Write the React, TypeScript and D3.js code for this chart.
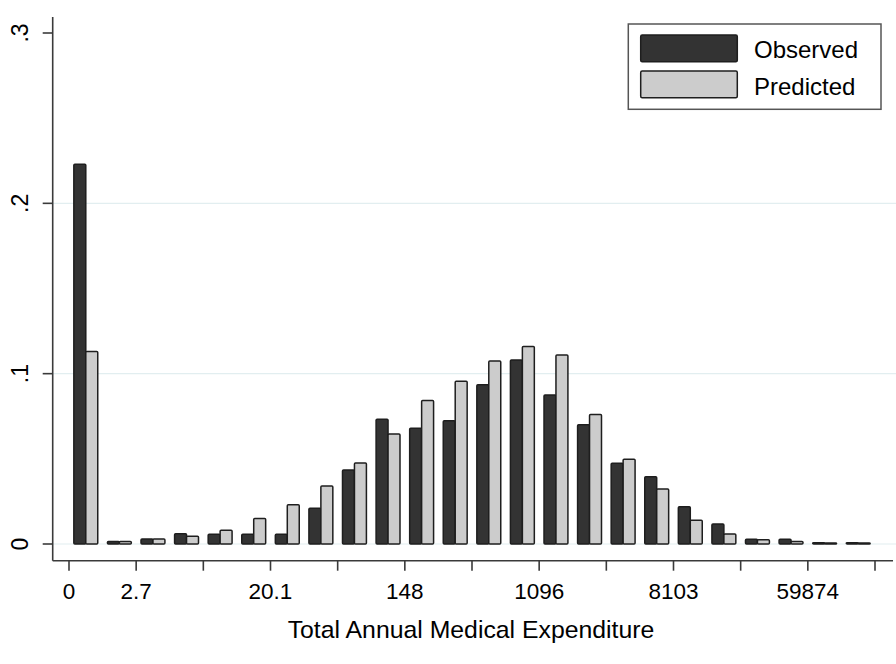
import React, { useEffect, useRef } from "react";
import * as d3 from "d3";

// bins are in log(expenditure) units, 0.5 wide
const binMid = [
  0.25, 0.75, 1.25, 1.75, 2.25, 2.75, 3.25, 3.75, 4.25, 4.75, 5.25, 5.75,
  6.25, 6.75, 7.25, 7.75, 8.25, 8.75, 9.25, 9.75, 10.25, 10.75, 11.25, 11.75,
];
const observed = [
  0.223, 0.0015, 0.003, 0.006, 0.0057, 0.0057, 0.0057, 0.021, 0.0435, 0.0733,
  0.068, 0.0723, 0.0935, 0.108, 0.0875, 0.07, 0.0474, 0.0395, 0.0219, 0.0117,
  0.0028, 0.0028, 0.0008, 0.0008,
];
const predicted = [
  0.113, 0.0015, 0.003, 0.0045, 0.008, 0.015, 0.023, 0.034, 0.0475, 0.0646,
  0.0842, 0.0955, 0.1075, 0.116, 0.111, 0.076, 0.0497, 0.0323, 0.014, 0.0058,
  0.0025, 0.0014, 0.0006, 0.0006,
];
const xTicks = [0, 1, 2, 3, 4, 5, 6, 7, 8, 9, 10, 11, 12];
const xTickLabels: Record<number, string> = {
  0: "0",
  1: "2.7",
  3: "20.1",
  5: "148",
  7: "1096",
  9: "8103",
  11: "59874",
};
const yTicks = [0, 0.1, 0.2, 0.3];
const yTickLabels = ["0", ".1", ".2", ".3"];
const gridVals = [0, 0.1, 0.2];
const seriesNames = ["Observed", "Predicted"];

const DARK = "#333333";
const LIGHT = "#cccccc";
const FONT = "'Liberation Sans', Arial, Helvetica, sans-serif";

const App: React.FC = () => {
  const svgRef = useRef<SVGSVGElement | null>(null);

  useEffect(() => {
    const width = 896;
    const height = 664;
    const axisX = 52.7;
    const axisY = 560.7;
    const plotTop = 17;

    const x = d3.scaleLinear().domain([0, 12]).range([69, 875]);
    const y = d3.scaleLinear().domain([0, 0.3]).range([544, 33]);
    const barW = 0.178; // in log units

    const svg = d3
      .select(svgRef.current)
      .attr("width", width)
      .attr("height", height)
      .attr("viewBox", [0, 0, width, height]);
    svg.selectAll("*").remove();

    svg.append("rect").attr("width", width).attr("height", height).attr("fill", "#fff");

    // grid
    svg
      .append("g")
      .selectAll("line")
      .data(gridVals)
      .join("line")
      .attr("x1", axisX)
      .attr("x2", width)
      .attr("y1", (d) => y(d))
      .attr("y2", (d) => y(d))
      .attr("stroke", "#e2eef0")
      .attr("stroke-width", 1.2);

    // bars
    const drawBars = (vals: number[], offset: number, fill: string) => {
      svg
        .append("g")
        .selectAll("rect")
        .data(vals)
        .join("rect")
        .attr("x", (_, i) => x(binMid[i] + offset))
        .attr("width", x(barW) - x(0))
        .attr("y", (d) => y(d))
        .attr("height", (d) => y(0) - y(d))
        .attr("rx", 1)
        .attr("fill", fill)
        .attr("stroke", "#1e1e1e")
        .attr("stroke-width", 1.5);
    };
    drawBars(observed, -barW, DARK);
    drawBars(predicted, 0, LIGHT);

    // y axis
    svg
      .append("line")
      .attr("x1", axisX)
      .attr("x2", axisX)
      .attr("y1", plotTop)
      .attr("y2", axisY)
      .attr("stroke", "#3a3a3a")
      .attr("stroke-width", 1.6);
    const gy = svg.append("g");
    gy.selectAll("line")
      .data(yTicks)
      .join("line")
      .attr("x1", axisX - 10)
      .attr("x2", axisX)
      .attr("y1", (d) => y(d))
      .attr("y2", (d) => y(d))
      .attr("stroke", "#3a3a3a")
      .attr("stroke-width", 1.6);
    gy.selectAll("text")
      .data(yTicks)
      .join("text")
      .attr("transform", (d) => `translate(28,${y(d)}) rotate(-90)`)
      .attr("text-anchor", "middle")
      .attr("font-family", FONT)
      .attr("font-size", 23)
      .attr("fill", "#000")
      .text((_, i) => yTickLabels[i]);

    // x axis
    svg
      .append("line")
      .attr("x1", axisX)
      .attr("x2", 893)
      .attr("y1", axisY)
      .attr("y2", axisY)
      .attr("stroke", "#3a3a3a")
      .attr("stroke-width", 1.6);
    const gx = svg.append("g");
    gx.selectAll("line")
      .data(xTicks)
      .join("line")
      .attr("x1", (d) => x(d))
      .attr("x2", (d) => x(d))
      .attr("y1", axisY)
      .attr("y2", axisY + 10)
      .attr("stroke", "#3a3a3a")
      .attr("stroke-width", 1.6);
    gx.selectAll("text")
      .data(xTicks.filter((d) => xTickLabels[d] !== undefined))
      .join("text")
      .attr("x", (d) => x(d))
      .attr("y", 599)
      .attr("text-anchor", "middle")
      .attr("font-family", FONT)
      .attr("font-size", 22.5)
      .attr("fill", "#000")
      .text((d) => xTickLabels[d]);

    svg
      .append("text")
      .attr("x", 471)
      .attr("y", 637.5)
      .attr("text-anchor", "middle")
      .attr("font-family", FONT)
      .attr("font-size", 24.8)
      .attr("fill", "#000")
      .text("Total Annual Medical Expenditure");

    // legend
    const lg = svg.append("g");
    lg.append("rect")
      .attr("x", 628.3)
      .attr("y", 24)
      .attr("width", 252.7)
      .attr("height", 85.3)
      .attr("fill", "#fff")
      .attr("stroke", "#555")
      .attr("stroke-width", 1.5);
    [DARK, LIGHT].forEach((c, i) => {
      lg.append("rect")
        .attr("x", 640.7)
        .attr("y", 35 + i * 36)
        .attr("width", 96.6)
        .attr("height", 26.7)
        .attr("rx", 1.5)
        .attr("fill", c)
        .attr("stroke", "#1e1e1e")
        .attr("stroke-width", 1.5);
      lg.append("text")
        .attr("x", 754)
        .attr("y", 58 + i * 36.6)
        .attr("font-family", FONT)
        .attr("font-size", 24)
        .attr("fill", "#000")
        .text(seriesNames[i]);
    });
  }, []);

  return (
    <div style={{ position: "absolute", left: 0, top: 0 }}>
      <svg ref={svgRef} style={{ display: "block" }}></svg>
    </div>
  );
};

export default App;
